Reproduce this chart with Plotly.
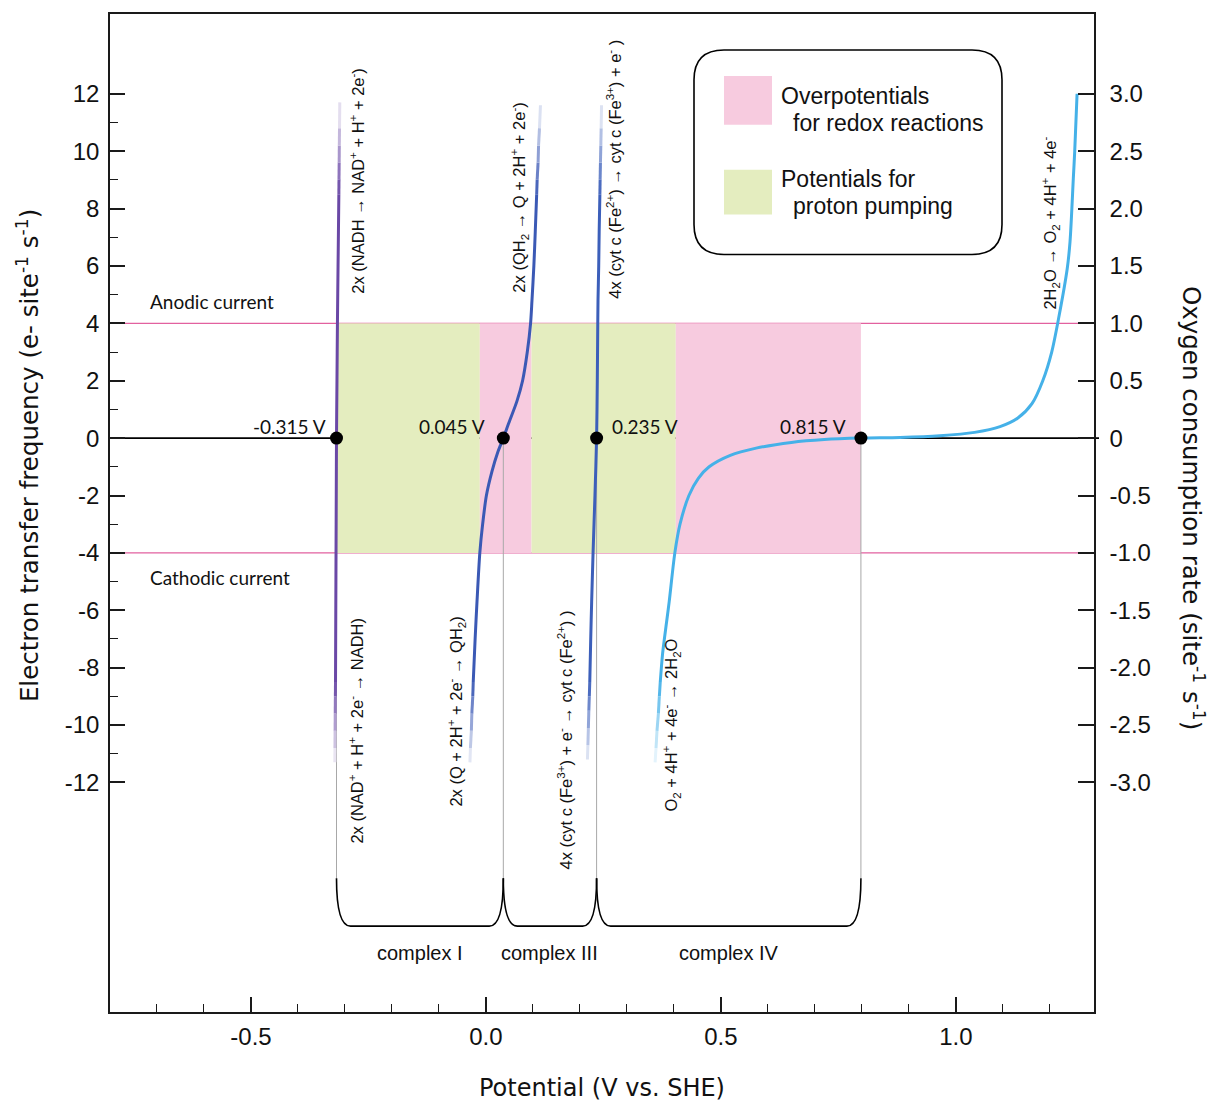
import plotly.graph_objects as go

# ---------------- data ----------------
# Potentials of the redox couples (positions of the black dots, V vs SHE)
dot_potentials = [-0.318, 0.037, 0.2355, 0.798]
dot_labels = ["-0.315 V", "0.045 V", "0.235 V", "0.815 V"]

# complex I : NADH / NAD+   (y = electron transfer frequency, e- site-1 s-1)
nadh_y = [-11.3, -10.8, -10.2, -9.6, -9.0, -8.5, -6.0, -4.0, -2.0, 0.0, 2.0, 4.0, 6.0,
          8.5, 9.0, 9.6, 10.2, 10.8, 11.7]
nadh_x = [-0.3215, -0.3213, -0.3210, -0.3207, -0.3204, -0.3201, -0.3195, -0.3190, -0.3185,
          -0.3180, -0.3170, -0.3160, -0.3147, -0.3130, -0.3127, -0.3123, -0.3120, -0.3116, -0.3110]

# complex I / III : QH2 / Q
qh2_y = [-11.3, -10.8, -10.2, -9.6, -9.0, -8.5, -7.0, -5.7, -4.0, -3.0, -2.0, -1.15, -0.5,
         0.0, 0.5, 1.29, 2.0, 3.0, 4.0, 4.8, 6.0, 7.2, 8.5, 9.0, 9.6, 10.2, 10.8, 11.6]
qh2_x = [-0.034, -0.033, -0.031, -0.030, -0.028, -0.027, -0.023, -0.019, -0.013, -0.007,
         0.001, 0.013, 0.025, 0.037, 0.048, 0.066, 0.078, 0.088, 0.095, 0.098, 0.102,
         0.105, 0.108, 0.109, 0.111, 0.112, 0.114, 0.116]

# complex III / IV : cyt c (Fe2+/Fe3+)
cytc_y = [-11.2, -10.7, -10.1, -9.5, -9.0, -8.5, -7.0, -5.7, -4.0, -2.0, 0.0, 2.0, 4.0,
          4.8, 6.0, 7.2, 8.5, 9.0, 9.6, 10.2, 10.8, 11.6]
cytc_x = [0.216, 0.217, 0.218, 0.219, 0.220, 0.221, 0.223, 0.225, 0.228, 0.232, 0.2355,
          0.237, 0.238, 0.2385, 0.240, 0.241, 0.2425, 0.243, 0.2437, 0.2445, 0.2452, 0.246]

# complex IV : O2 / H2O
o2_y = [-11.3, -10.8, -10.2, -9.6, -9.0, -8.5, -7.5, -6.4, -5.7, -4.0, -3.0, -2.0, -1.4,
        -1.0, -0.6, -0.35, -0.15, -0.05, 0.0, 0.02, 0.08, 0.2, 0.4, 0.7, 1.2, 2.0, 3.0,
        4.2, 5.9, 6.85, 9.05, 10.0, 12.0]
o2_x = [0.360, 0.362, 0.364, 0.367, 0.369, 0.371, 0.376, 0.3845, 0.390, 0.402, 0.413,
        0.432, 0.452, 0.475, 0.520, 0.575, 0.650, 0.720, 0.798, 0.881, 0.966, 1.040,
        1.094, 1.132, 1.162, 1.185, 1.204, 1.219, 1.237, 1.243, 1.250, 1.253, 1.258]

# shaded potential windows between -4 and +4
region_edges = [-0.318, -0.013, 0.097, 0.404, 0.798]
region_kinds = ["pump", "over", "pump", "over"]
current_limit = 4

complex_names = ["complex I", "complex III", "complex IV"]

# axis ticks
x_major = [-0.5, 0.0, 0.5, 1.0]
x_major_text = ["-0.5", "0.0", "0.5", "1.0"]
x_minor = [-0.7, -0.6, -0.4, -0.3, -0.2, -0.1, 0.1, 0.2, 0.3, 0.4, 0.6, 0.7, 0.8, 0.9, 1.1, 1.2]
y_major = [-12, -10, -8, -6, -4, -2, 0, 2, 4, 6, 8, 10, 12]
y_minor = [-11, -9, -7, -5, -3, -1, 1, 3, 5, 7, 9, 11]
y2_major = [-3.0, -2.5, -2.0, -1.5, -1.0, -0.5, 0.0, 0.5, 1.0, 1.5, 2.0, 2.5, 3.0]
y2_text = ["-3.0", "-2.5", "-2.0", "-1.5", "-1.0", "-0.5", "0", "0.5", "1.0", "1.5", "2.0", "2.5", "3.0"]

# ---------------- geometry / style ----------------
W, H = 1210, 1103
L, R, T, B = 110, 1094, 12, 1012
X_RANGE = [-0.8, 1.294]
Y_RANGE = [-20.0, 14.78]
Y2_RANGE = [Y_RANGE[0] / 4, Y_RANGE[1] / 4]

PINK = "#f7cbdf"
GREEN = "#e4edbf"
LINE_PINK = "#e2619f"
AX = "#1a1a1a"
ARIAL = "Liberation Sans, Arial, sans-serif"
MYRIAD = "Lato, Open Sans, sans-serif"


def px_x(px):
    return X_RANGE[0] + (px - L) / (R - L) * (X_RANGE[1] - X_RANGE[0])


def px_y(py):
    return Y_RANGE[1] - (py - T) / (B - T) * (Y_RANGE[1] - Y_RANGE[0])


def paper_x(px):
    return (px - L) / (R - L)


def paper_y(py):
    return (B - py) / (B - T)


def blend(hex_color, a):
    r, g, b = int(hex_color[1:3], 16), int(hex_color[3:5], 16), int(hex_color[5:7], 16)
    return "rgb(%d,%d,%d)" % (round(r * a + 255 * (1 - a)), round(g * a + 255 * (1 - a)),
                              round(b * a + 255 * (1 - a)))


def alpha_of(y, fade_top, fade_bottom):
    if fade_top and y > 8.5:
        return max(0.06, 1 - (y - 8.5) / 3.3)
    if fade_bottom and y < -8.5:
        return max(0.06, 1 - (-y - 8.5) / 3.0)
    return 1.0


fig = go.Figure()


def add_curve(xs, ys, color, fade_top=True, fade_bottom=True):
    al = [alpha_of(v, fade_top, fade_bottom) for v in ys]
    mx = [x for x, a in zip(xs, al) if a == 1.0]
    my = [y for y, a in zip(ys, al) if a == 1.0]
    fig.add_trace(go.Scatter(x=mx, y=my, mode="lines",
                             line=dict(color=color, width=3, shape="spline", smoothing=0.8),
                             hoverinfo="skip", showlegend=False))
    for i in range(len(xs) - 1):
        if al[i] == 1.0 and al[i + 1] == 1.0:
            continue
        a = (al[i] + al[i + 1]) / 2
        fig.add_trace(go.Scatter(x=[xs[i], xs[i + 1]], y=[ys[i], ys[i + 1]], mode="lines",
                                 line=dict(color=blend(color, a), width=3),
                                 hoverinfo="skip", showlegend=False))


add_curve(nadh_x, nadh_y, "#6a48a6")
add_curve(qh2_x, qh2_y, "#3b59b5")
add_curve(cytc_x, cytc_y, "#3c5fba")
add_curve(o2_x, o2_y, "#45b1e8", fade_top=False, fade_bottom=True)

# dots
fig.add_trace(go.Scatter(x=dot_potentials, y=[0] * len(dot_potentials), mode="markers",
                         marker=dict(color="black", size=13), hoverinfo="skip", showlegend=False))

# dummy trace so the right axis is drawn
fig.add_trace(go.Scatter(x=[0], y=[0], yaxis="y2", mode="markers",
                         marker=dict(opacity=0), hoverinfo="skip", showlegend=False))

shapes = []
# shaded windows
for i, kind in enumerate(region_kinds):
    shapes.append(dict(type="rect", xref="x", yref="y", x0=region_edges[i], x1=region_edges[i + 1],
                       y0=-current_limit, y1=current_limit, line=dict(width=0),
                       fillcolor=GREEN if kind == "pump" else PINK, layer="below"))
# anodic / cathodic limit lines
for yv in (current_limit, -current_limit):
    shapes.append(dict(type="line", xref="paper", yref="y", x0=0, x1=1, y0=yv, y1=yv,
                       line=dict(color=LINE_PINK, width=1.2), layer="below"))
# zero line
shapes.append(dict(type="line", xref="paper", yref="y", x0=0, x1=paper_x(1099), y0=0, y1=0,
                   line=dict(color="black", width=1.8), layer="below"))
# thin grey drop lines and braces
y_top = px_y(878)
y_bot = px_y(926)
for xv in dot_potentials:
    shapes.append(dict(type="line", xref="x", yref="y", x0=xv, x1=xv, y0=0, y1=y_top,
                       line=dict(color="#a8a8a8", width=1), layer="below"))
rx = 14 / (R - L) * (X_RANGE[1] - X_RANGE[0])
for i in range(len(complex_names)):
    x0, x1 = dot_potentials[i], dot_potentials[i + 1]
    path = "M %f,%f Q %f,%f %f,%f L %f,%f Q %f,%f %f,%f" % (
        x0, y_top, x0, y_bot, x0 + rx, y_bot, x1 - rx, y_bot, x1, y_bot, x1, y_top)
    shapes.append(dict(type="path", xref="x", yref="y", path=path,
                       line=dict(color="black", width=1.6)))

# legend box
bx0, bx1, by0, by1, rad = 694, 1002, 48, 253, 30
rxp = rad / (R - L) * (X_RANGE[1] - X_RANGE[0])
ryp = rad / (B - T) * (Y_RANGE[1] - Y_RANGE[0])
X0, X1, Yt, Yb = px_x(bx0), px_x(bx1), px_y(by0), px_y(by1)
legend_path = ("M %f,%f L %f,%f Q %f,%f %f,%f L %f,%f Q %f,%f %f,%f L %f,%f Q %f,%f %f,%f "
               "L %f,%f Q %f,%f %f,%f Z") % (
    X0 + rxp, Yt, X1 - rxp, Yt, X1, Yt, X1, Yt - ryp,
    X1, Yb + ryp, X1, Yb, X1 - rxp, Yb,
    X0 + rxp, Yb, X0, Yb, X0, Yb + ryp,
    X0, Yt - ryp, X0, Yt, X0 + rxp, Yt)
shapes.append(dict(type="path", xref="x", yref="y", path=legend_path,
                   line=dict(color="black", width=1.6), fillcolor="white"))
shapes.append(dict(type="rect", xref="x", yref="y", x0=px_x(724), x1=px_x(772), y0=px_y(123),
                   y1=px_y(74), line=dict(width=0), fillcolor=PINK))
shapes.append(dict(type="rect", xref="x", yref="y", x0=px_x(724), x1=px_x(772), y0=px_y(213),
                   y1=px_y(168), line=dict(width=0), fillcolor=GREEN))

ann = []


def text(x, y, s, size, family=ARIAL, xanchor="left", angle=0, **kw):
    d = dict(x=x, y=y, xref="x", yref="y", text=s, showarrow=False, xanchor=xanchor,
             yanchor="middle", textangle=angle, font=dict(size=size, family=family, color="#111"))
    d.update(kw)
    ann.append(d)


# legend texts
text(px_x(779), px_y(94), "Overpotentials", 23)
text(px_x(791), px_y(121), "for redox reactions", 23)
text(px_x(779), px_y(177), "Potentials for", 23)
text(px_x(791), px_y(204), "proton pumping", 23)

# current labels
text(px_x(148), px_y(300), "Anodic current", 19, family=MYRIAD)
text(px_x(148), px_y(577), "Cathodic current", 19, family=MYRIAD)

# potential labels
offs = [(-9, "right"), (-16, "right"), (13, "left"), (-13, "right")]
for xv, lab, (dx, anc) in zip(dot_potentials, dot_labels, offs):
    text(xv, 0, lab, 19, family=MYRIAD, xanchor=anc, xshift=dx, yshift=12)

# complex labels
for i, name in enumerate(complex_names):
    cx = (dot_potentials[i] + dot_potentials[i + 1]) / 2
    text(cx, px_y(953), name, 20, xanchor="center")

# reaction labels (rotated)
reactions = [
    (357, 179, "2x (NADH → NAD<sup>+</sup> + H<sup>+</sup> + 2e<sup>-</sup>)"),
    (519, 196, "2x (QH<sub>2</sub> → Q + 2H<sup>+</sup> + 2e<sup>-</sup>)"),
    (614, 168, "4x (cyt c (Fe<sup>2+</sup>) → cyt c (Fe<sup>3+</sup>) + e<sup>-</sup> )"),
    (1050, 222, "2H<sub>2</sub>O → O<sub>2</sub> + 4H<sup>+</sup> + 4e<sup>-</sup>"),
    (356, 730, "2x (NAD<sup>+</sup> + H<sup>+</sup> + 2e<sup>-</sup> → NADH)"),
    (456, 711, "2x (Q + 2H<sup>+</sup> + 2e<sup>-</sup> → QH<sub>2</sub>)"),
    (565, 740, "4x (cyt c (Fe<sup>3+</sup>) + e<sup>-</sup> → cyt c (Fe<sup>2+</sup>) )"),
    (671, 725, "O<sub>2</sub> + 4H<sup>+</sup> + 4e<sup>-</sup> → 2H<sub>2</sub>O"),
]
for cx, cy, s in reactions:
    text(px_x(cx), px_y(cy), s, 16.5, xanchor="center", angle=-90)

# axis titles
ann.append(dict(x=0.5, y=paper_y(1088), xref="paper", yref="paper", showarrow=False,
                text="Potential (V vs. SHE)", xanchor="center", yanchor="middle",
                font=dict(size=24, family="DejaVu Sans, sans-serif", color="#111")))
ann.append(dict(x=paper_x(28), y=paper_y(455), xref="paper", yref="paper", showarrow=False,
                text="Electron transfer frequency (e- site<sup>-1</sup> s<sup>-1</sup>)",
                textangle=-90, xanchor="center", yanchor="middle",
                font=dict(size=24.5, family="DejaVu Sans, sans-serif", color="#111")))
ann.append(dict(x=paper_x(1193), y=paper_y(507), xref="paper", yref="paper", showarrow=False,
                text="Oxygen consumption rate (site<sup>-1</sup> s<sup>-1</sup>)",
                textangle=90, xanchor="center", yanchor="middle",
                font=dict(size=24.5, family="DejaVu Sans, sans-serif", color="#111")))

tickfont = dict(size=24, family=ARIAL, color="#111")
fig.update_layout(
    width=W, height=H, autosize=False,
    margin=dict(l=L, r=W - R, t=T, b=H - B, pad=0),
    paper_bgcolor="white", plot_bgcolor="white", showlegend=False,
    shapes=shapes, annotations=ann, hovermode=False,
    xaxis=dict(range=X_RANGE, showgrid=False, zeroline=False, showline=True, mirror=True,
               linecolor=AX, linewidth=1.6, ticks="inside", ticklen=15, tickwidth=1.6,
               tickcolor=AX, tickmode="array", tickvals=x_major, ticktext=x_major_text,
               tickfont=tickfont, ticklabelstandoff=2,
               minor=dict(tickmode="array", tickvals=x_minor, ticks="inside", ticklen=8,
                          tickwidth=1.3, tickcolor=AX, showgrid=False)),
    yaxis=dict(range=Y_RANGE, showgrid=False, zeroline=False, showline=True, mirror=False,
               linecolor=AX, linewidth=1.6, ticks="inside", ticklen=15, tickwidth=1.6,
               tickcolor=AX, tickmode="array", tickvals=y_major,
               ticktext=[str(v) for v in y_major], tickfont=tickfont, ticklabelstandoff=4,
               minor=dict(tickmode="array", tickvals=y_minor, ticks="inside", ticklen=8,
                          tickwidth=1.3, tickcolor=AX, showgrid=False)),
    yaxis2=dict(range=Y2_RANGE, overlaying="y", side="right", showgrid=False, zeroline=False,
                showline=True, linecolor=AX, linewidth=1.6, ticks="inside", ticklen=16,
                tickwidth=1.6, tickcolor=AX, tickmode="array", tickvals=y2_major,
                ticktext=y2_text, tickfont=tickfont, ticklabelstandoff=9),
)

fig.write_html("out.html", config={"displayModeBar": False},
               post_script="document.body.style.margin='0px';"
                           "document.body.style.overflow='hidden';")
